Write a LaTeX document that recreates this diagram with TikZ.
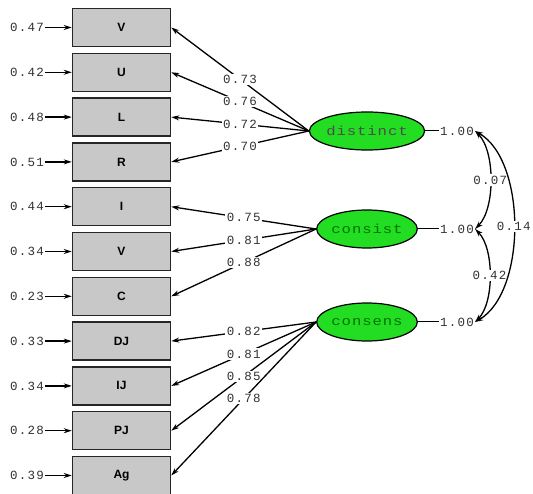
\documentclass[tikz,border=0pt]{standalone}
\usepackage{fontspec}
\setmainfont{Liberation Sans}
\newfontfamily\numfont[LetterSpace=10]{Liberation Mono}
\newfontfamily\latfont[LetterSpace=6]{Liberation Mono}
\usetikzlibrary{arrows.meta,shapes.geometric}
\definecolor{boxgray}{RGB}{200,200,200}
\definecolor{latgreen}{RGB}{34,221,34}
\definecolor{txtgray}{RGB}{50,50,50}
\tikzset{
  obs/.style={draw=black!85,line width=1.5pt,fill=boxgray,minimum width=98pt,minimum height=38pt,inner sep=0pt,font=\fontsize{12}{13}\selectfont\bfseries},
  lat/.style={ellipse,draw=black,line width=1.2pt,fill=latgreen,minimum width=98pt,minimum height=38pt,inner sep=0pt},
  num/.style={font=\numfont\fontsize{12.5}{13}\selectfont,text=txtgray,inner sep=1pt},
  lbl/.style={num,fill=white,inner sep=1.5pt},
  arr/.style={-{Stealth[length=8pt,width=5pt]},line width=1.3pt,black},
  darr/.style={{Stealth[length=8pt,width=5pt]}-{Stealth[length=8pt,width=5pt]},line width=1.3pt,black},
  plain/.style={line width=1pt,black}
}
\begin{document}
\begin{tikzpicture}[x=1pt,y=-1pt]
\path[use as bounding box,fill=white] (0,0) rectangle (533,494);
% observed boxes
\foreach \n/\t/\e [count=\i from 0] in {b1/V/0.47,b2/U/0.42,b3/L/0.48,b4/R/0.51,b5/I/0.44,b6/V/0.34,b7/C/0.23,b8/DJ/0.33,b9/IJ/0.34,b10/PJ/0.28,b11/Ag/0.39}{
  \node[obs] (\n) at (121.5,{27.5+44.8*\i}) {\t};
  \node[num] (e\n) at (27,{27.5+44.8*\i}) {\e};
  \draw[arr] (e\n.east) -- (\n.west);
}
% latent variables
\node[lat] (d) at (367,131) {\scalebox{1.2}[1]{\latfont\fontsize{13}{14}\selectfont\color{black!70}distinct}};
\node[lat] (c) at (367,229) {\scalebox{1.2}[1]{\latfont\fontsize{13}{14}\selectfont\color{green!45!black}consist}};
\node[lat] (s) at (367,322) {\scalebox{1.2}[1]{\latfont\fontsize{13}{14}\selectfont\color{green!45!black}consens}};
% variances
\node[num] (vd) at (457,131) {1.00};
\node[num] (vc) at (457,229) {1.00};
\node[num] (vs) at (457,322) {1.00};
\draw[plain] (d.east) -- (vd.west);
\draw[plain] (c.east) -- (vc.west);
\draw[plain] (s.east) -- (vs.west);
% loadings
\foreach \b/\v in {b1/0.73,b2/0.76,b3/0.72,b4/0.70}{
  \draw[arr] (d.west) -- node[lbl,pos=0.5]{\v} (\b.east);
}
\foreach \b/\v in {b5/0.75,b6/0.81,b7/0.88}{
  \draw[arr] (c.west) -- node[lbl,pos=0.5]{\v} (\b.east);
}
\foreach \b/\v in {b8/0.82,b9/0.81,b10/0.85,b11/0.78}{
  \draw[arr] (s.west) -- node[lbl,pos=0.5]{\v} (\b.east);
}
% covariances
\draw[darr] (vd.east) to[out=-45,in=45,looseness=0.75] node[lbl,pos=0.5]{0.07} (vc.east);
\draw[darr] (vc.east) to[out=-45,in=45,looseness=0.75] node[lbl,pos=0.5]{0.42} (vs.east);
\draw[darr] (vd.east) to[out=-30,in=30,looseness=0.8] node[lbl,pos=0.5]{0.14} (vs.east);
\end{tikzpicture}
\end{document}
